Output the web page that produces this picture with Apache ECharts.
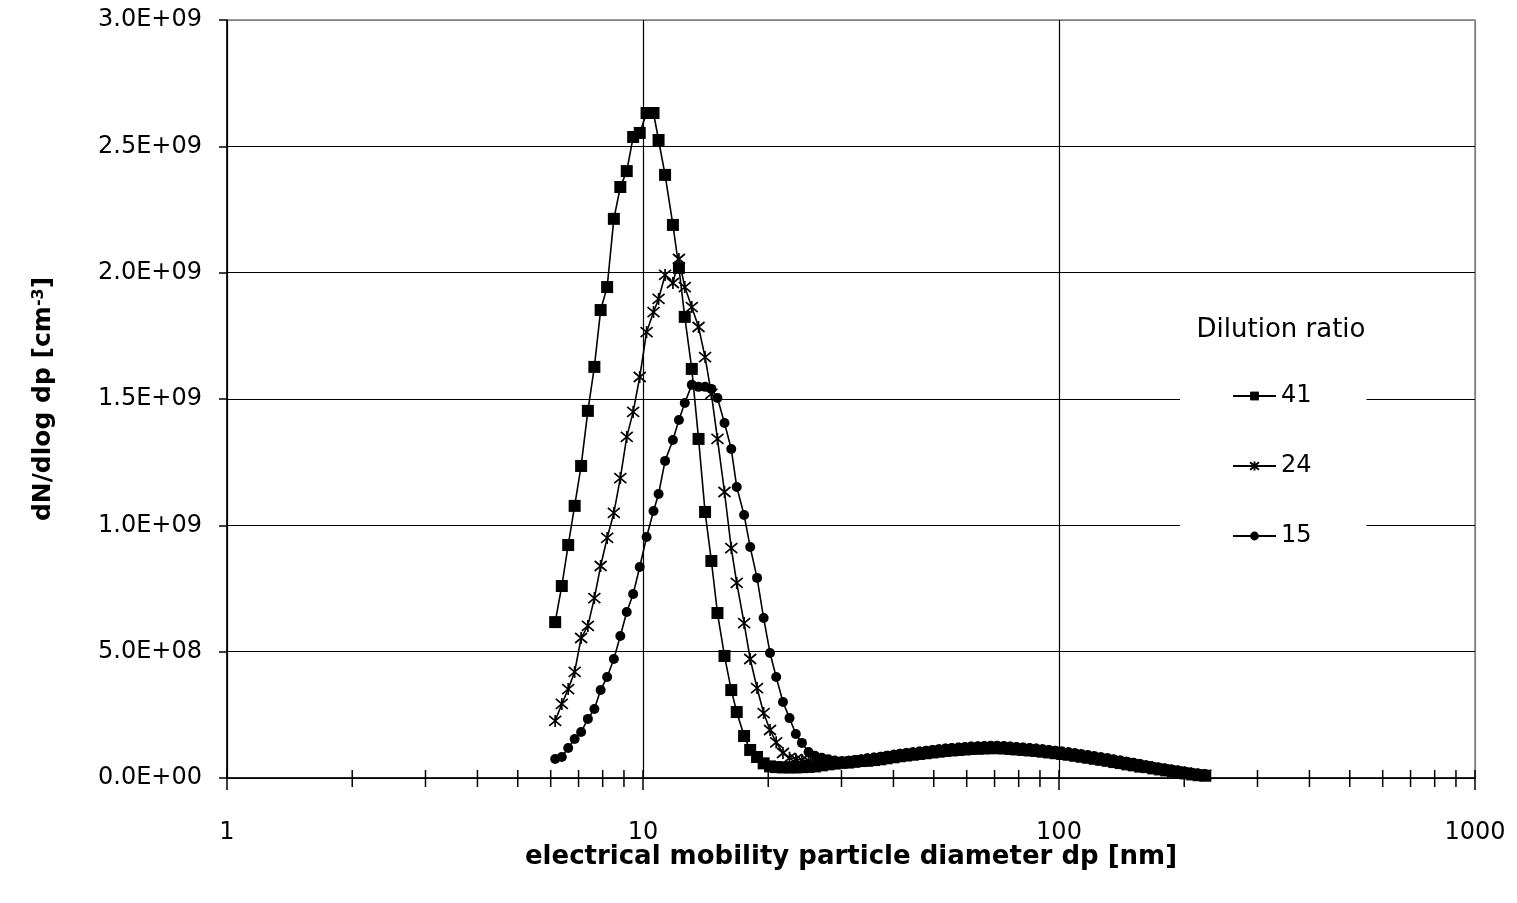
<!DOCTYPE html>
<html lang="en" style="height: 100%">
<head>
  <meta charset="utf-8">
</head>
<body style="height: 100%; margin: 0; background: #fff">
  <div id="container" style="width: 1517px; height: 903px"></div>

  <script type="text/javascript" src="https://cdn.jsdelivr.net/npm/echarts@6/dist/echarts.min.js"></script>
  <script type="text/javascript">
    var dom = document.getElementById('container');
    var myChart = echarts.init(dom, null, { renderer: 'canvas' });

    // SMPS channel midpoints, 64 channels/decade [nm]
    const diameters = [
      6.15, 6.38, 6.61, 6.85, 7.10, 7.37, 7.64, 7.91, 8.20, 8.51, 8.82, 9.14, 9.47, 9.82,
      10.2, 10.6, 10.9, 11.3, 11.8, 12.2, 12.6, 13.1, 13.6, 14.1, 14.6, 15.1, 15.7, 16.3,
      16.8, 17.5, 18.1, 18.8, 19.5, 20.2, 20.9, 21.7, 22.5, 23.3, 24.1, 25.0, 25.9, 26.9,
      27.9, 28.9, 30.0, 31.1, 32.2, 33.4, 34.6, 35.9, 37.2, 38.5, 40.0, 41.4, 42.9, 44.5,
      46.1, 47.8, 49.6, 51.4, 53.3, 55.2, 57.3, 59.4, 61.5, 63.8, 66.1, 68.5, 71.0, 73.7,
      76.4, 79.1, 82.0, 85.1, 88.2, 91.4, 94.7, 98.2, 101.8, 105.5, 109.4, 113.4, 117.6,
      121.9, 126.3, 131.0, 135.8, 140.7, 145.9, 151.2, 156.8, 162.5, 168.5, 174.7, 181.1,
      187.7, 194.6, 201.7, 209.1, 216.7, 224.7
    ];

    // dN/dlog dp in units of 1E+09 cm^-3
    const dr41 = [
      0.617, 0.760, 0.922, 1.077, 1.235, 1.453, 1.627, 1.852, 1.943, 2.213, 2.339, 2.402, 2.537, 2.553,
      2.632, 2.632, 2.525, 2.387, 2.189, 2.019, 1.825, 1.619, 1.342, 1.053, 0.859, 0.653, 0.483, 0.348,
      0.261, 0.166, 0.111, 0.083, 0.058, 0.046, 0.043, 0.042, 0.042, 0.042, 0.043, 0.044, 0.046, 0.050,
      0.054, 0.057, 0.060,
      0.061, 0.064, 0.067, 0.068, 0.071, 0.074, 0.078, 0.082, 0.086, 0.089, 0.092, 0.095, 0.098, 0.101,
      0.104, 0.107, 0.109, 0.111, 0.113, 0.115, 0.116, 0.117, 0.118, 0.118, 0.117, 0.115, 0.113, 0.111,
      0.109, 0.107, 0.104, 0.101, 0.098, 0.095, 0.092, 0.088, 0.084, 0.080, 0.076, 0.072, 0.068, 0.063,
      0.059, 0.054, 0.050, 0.045, 0.043, 0.038, 0.034, 0.030, 0.026, 0.022, 0.018, 0.014, 0.011, 0.009
    ];
    const dr24 = [
      0.226, 0.293, 0.352, 0.420, 0.554, 0.602, 0.712, 0.839, 0.950, 1.049, 1.187, 1.350, 1.449, 1.587,
      1.765, 1.844, 1.896, 1.991, 1.959, 2.054, 1.943, 1.864, 1.785, 1.666, 1.520, 1.342, 1.132, 0.910,
      0.772, 0.613, 0.471, 0.356, 0.257, 0.190, 0.141, 0.099, 0.080, 0.075, 0.071, 0.068, 0.066, 0.063,
      0.061, 0.061, 0.062,
      0.064, 0.067, 0.070, 0.073, 0.076, 0.079, 0.083, 0.087, 0.091, 0.094, 0.097, 0.100, 0.103, 0.106,
      0.109, 0.112, 0.114, 0.116, 0.118, 0.120, 0.121, 0.122, 0.123, 0.123, 0.122, 0.120, 0.118, 0.116,
      0.114, 0.112, 0.109, 0.106, 0.103, 0.100, 0.097, 0.093, 0.089, 0.085, 0.081, 0.077, 0.073, 0.068,
      0.064, 0.059, 0.055, 0.050, 0.046, 0.041, 0.037, 0.033, 0.029, 0.025, 0.021, 0.017, 0.014, 0.012
    ];
    const dr15 = [
      0.075, 0.083, 0.119, 0.154, 0.182, 0.234, 0.273, 0.348, 0.400, 0.471, 0.562, 0.657, 0.728, 0.835,
      0.954, 1.057, 1.124, 1.255, 1.338, 1.417, 1.484, 1.556, 1.548, 1.548, 1.540, 1.504, 1.405, 1.302,
      1.152, 1.041, 0.914, 0.792, 0.633, 0.495, 0.400, 0.301, 0.237, 0.174, 0.139, 0.103, 0.088, 0.080,
      0.074, 0.069, 0.066,
      0.067, 0.070, 0.073, 0.078, 0.081, 0.084, 0.088, 0.092, 0.096, 0.099, 0.102, 0.105, 0.108, 0.111,
      0.114, 0.117, 0.119, 0.121, 0.123, 0.125, 0.126, 0.127, 0.128, 0.128, 0.127, 0.125, 0.123, 0.121,
      0.119, 0.117, 0.114, 0.111, 0.108, 0.105, 0.102, 0.098, 0.094, 0.090, 0.086, 0.082, 0.078, 0.073,
      0.069, 0.064, 0.060, 0.055, 0.049, 0.044, 0.040, 0.036, 0.032, 0.028, 0.024, 0.020, 0.017, 0.015
    ];
    const UNIT = 1e9;

    const seriesNames = ['41', '24', '15'];
    const xLabels = ['1', '10', '100', '1000'];
    const majorTicks = [1, 10, 100, 1000];
    const minorTicks = [2, 3, 4, 5, 6, 7, 8, 9, 20, 30, 40, 50, 60, 70, 80, 90,
                        200, 300, 400, 500, 600, 700, 800, 900];

    const FONT = "'DejaVu Sans', 'Liberation Sans', Arial, sans-serif";

    function pairs(vals) {
      return diameters.map((d, i) => [d, vals[i] * UNIT]);
    }

    function sci(v) {
      if (v === 0) return '0.0E+00';
      const e = Math.floor(Math.log10(v) + 1e-9);
      const m = v / Math.pow(10, e);
      return m.toFixed(1) + 'E+' + (e < 10 ? '0' : '') + e;
    }

    const lineBase = {
      type: 'line',
      lineStyle: { color: '#000', width: 1.6 },
      emphasis: { disabled: true },
      z: 3
    };

    // axis ticks that cross the x axis line
    function tickSeries(vals, up, down) {
      return {
        type: 'custom',
        coordinateSystem: 'cartesian2d',
        silent: true,
        clip: false,
        z: 5,
        data: vals.map(v => [v, 0]),
        renderItem: function (params, api) {
          const p = api.coord([api.value(0), 0]);
          return {
            type: 'line',
            shape: { x1: p[0], y1: p[1] - up, x2: p[0], y2: p[1] + down },
            style: { stroke: '#000', lineWidth: 1.5 }
          };
        }
      };
    }

    var option = {
      animation: false,
      backgroundColor: '#fff',
      textStyle: { fontFamily: FONT },
      grid: {
        left: 227, right: 42, top: 20, bottom: 125,
        show: true, borderColor: '#808080', borderWidth: 1.5, backgroundColor: 'transparent'
      },
      xAxis: {
        type: 'log',
        logBase: 10,
        min: 1,
        max: 1000,
        name: 'electrical mobility particle diameter dp [nm]',
        nameLocation: 'middle',
        nameGap: 66,
        nameMoveOverlap: false,
        nameTextStyle: { fontSize: 26, fontWeight: 'bold', color: '#000', fontFamily: FONT },
        axisLine: { show: true, lineStyle: { color: '#000', width: 1.5 } },
        axisTick: { show: false },
        axisLabel: {
          margin: 43, fontSize: 24, color: '#000', fontFamily: FONT,
          formatter: v => xLabels[Math.round(Math.log10(v))]
        },
        splitLine: { show: true, lineStyle: { color: ['#000', '#000', '#000', '#808080'], width: 1.2 } }
      },
      yAxis: {
        type: 'value',
        min: 0,
        max: 3e9,
        interval: 5e8,
        name: 'dN/dlog dp [cm{sup|-3}]',
        nameLocation: 'middle',
        nameRotate: 90,
        nameGap: 171,
        nameMoveOverlap: false,
        nameTextStyle: {
          fontSize: 25, fontWeight: 'bold', color: '#000', fontFamily: FONT,
          rich: { sup: { fontSize: 16, fontWeight: 'bold', verticalAlign: 'top', color: '#000', fontFamily: FONT } }
        },
        axisLine: { show: true, lineStyle: { color: '#000', width: 1.5 } },
        axisTick: { show: true, inside: false, length: 8, lineStyle: { color: '#000', width: 1.5 } },
        axisLabel: { margin: 25, fontSize: 24, color: '#000', fontFamily: FONT, formatter: sci },
        splitLine: {
          show: true,
          lineStyle: { color: ['#000', '#000', '#000', '#000', '#000', '#000', '#808080'], width: 1.2 }
        }
      },
      legend: {
        data: seriesNames,
        orient: 'vertical',
        left: 1180,
        top: 290,
        padding: [94, 55, 25, 52],
        itemGap: 46,
        itemWidth: 43,
        itemHeight: 11,
        backgroundColor: '#fff',
        selectedMode: false,
        textStyle: { fontSize: 24, color: '#000', fontFamily: FONT }
      },
      graphic: [{
        type: 'text',
        x: 1281,
        y: 330,
        z: 100,
        style: {
          text: 'Dilution ratio', fontSize: 26, fill: '#000', fontFamily: FONT,
          align: 'center', verticalAlign: 'middle'
        }
      }],
      series: [
        Object.assign({}, lineBase, {
          name: seriesNames[0],
          data: pairs(dr41),
          symbol: 'rect',
          symbolSize: 12,
          itemStyle: { color: '#000' }
        }),
        Object.assign({}, lineBase, {
          name: seriesNames[1],
          data: pairs(dr24),
          symbol: 'path://M0,0L10,10M10,0L0,10M5,-1L5,11',
          symbolSize: 12,
          itemStyle: { color: '#000', borderColor: '#000', borderWidth: 1.7 }
        }),
        Object.assign({}, lineBase, {
          name: seriesNames[2],
          data: pairs(dr15),
          symbol: 'circle',
          symbolSize: 10,
          itemStyle: { color: '#000' }
        }),
        tickSeries(minorTicks, 8, 9),
        tickSeries(majorTicks, 8, 12)
      ]
    };

    myChart.setOption(option);
    window.addEventListener('resize', myChart.resize);
  </script>
</body>
</html>
